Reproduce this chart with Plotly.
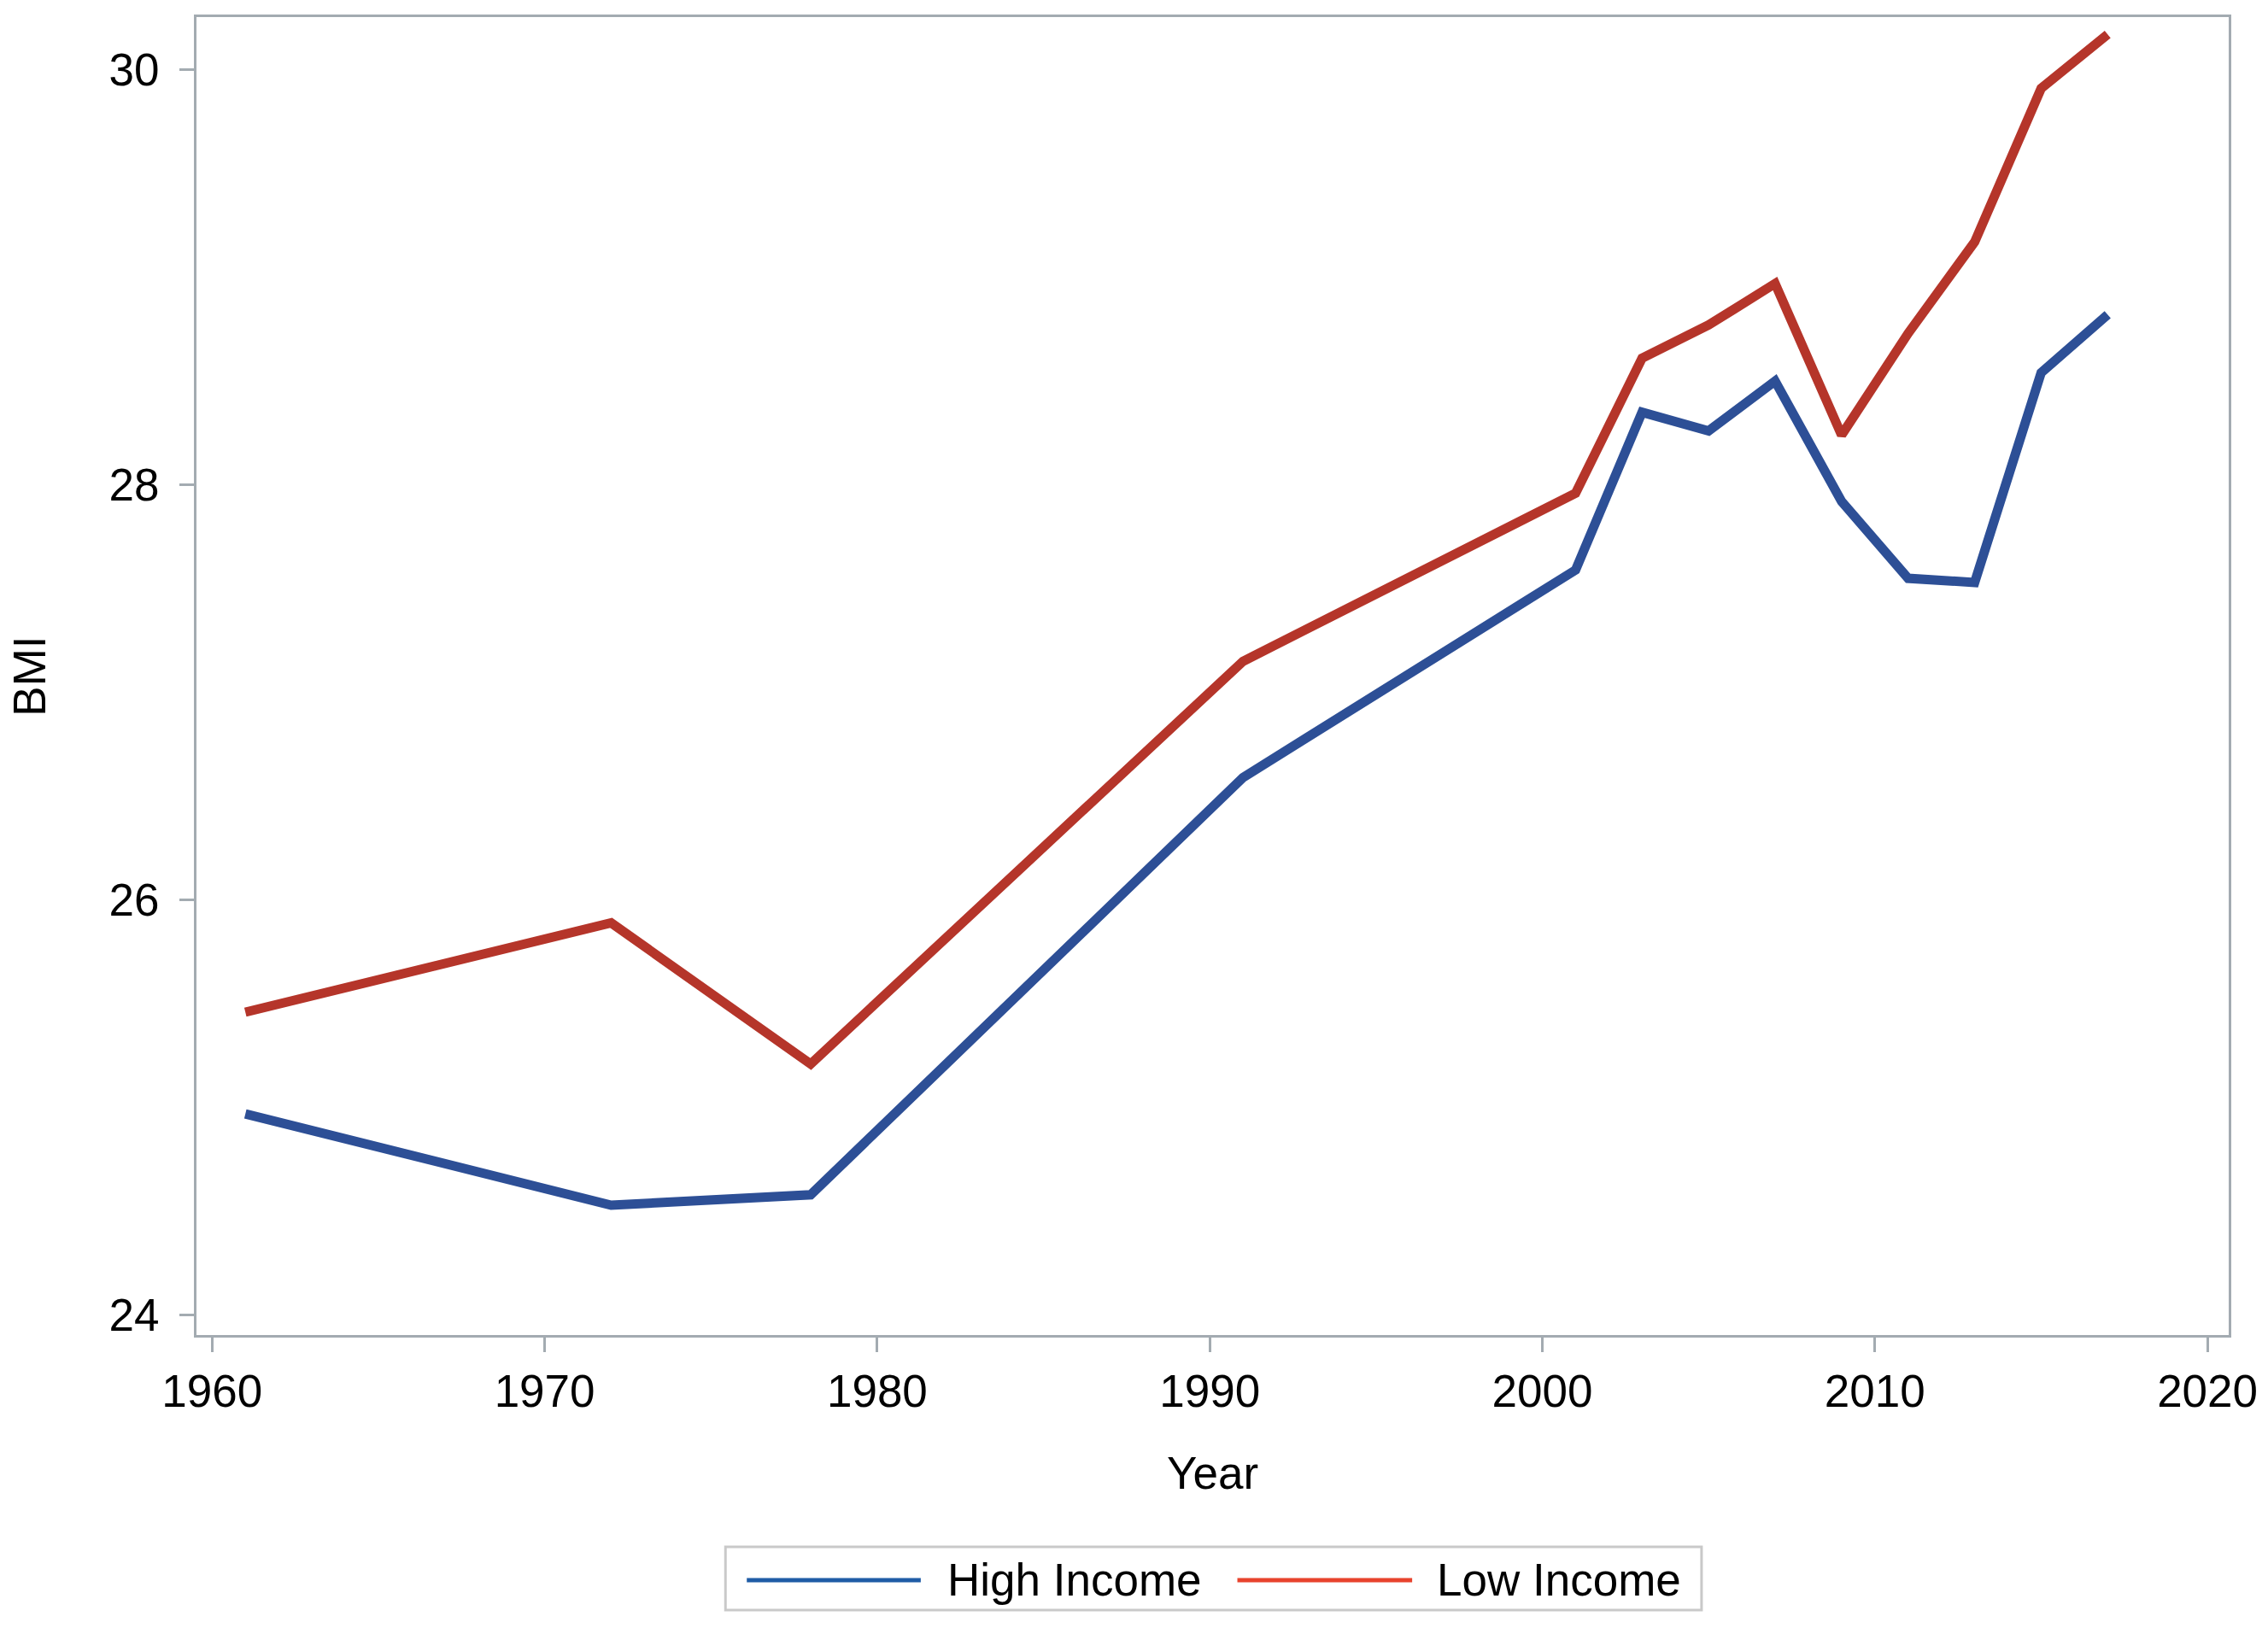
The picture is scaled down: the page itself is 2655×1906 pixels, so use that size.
import plotly.graph_objects as go

years = [1961, 1972, 1978, 1991, 2001, 2003, 2005, 2007, 2009, 2011, 2013, 2015, 2017]
high_income = [24.97, 24.53, 24.58, 26.59, 27.59, 28.35, 28.26, 28.50, 27.92, 27.55, 27.53, 28.54, 28.82]
low_income = [25.46, 25.89, 25.21, 27.15, 27.96, 28.61, 28.77, 28.97, 28.24, 28.73, 29.17, 29.91, 30.17]

series_names = ["High Income", "Low Income"]
x_ticks = [1960, 1970, 1980, 1990, 2000, 2010, 2020]
y_ticks = [24, 26, 28, 30]

FONT = "Liberation Sans, Arial, sans-serif"
AXIS_GREY = "#a3abb1"
LINE_COLORS = ["#2d4f96", "#b5352a"]
LEGEND_COLORS = ["#1f5ca6", "#e8432d"]

fig = go.Figure()
for name, vals, col in zip(series_names, [high_income, low_income], LINE_COLORS):
    fig.add_trace(go.Scatter(x=years, y=vals, mode="lines", name=name,
                             line=dict(color=col, width=11), showlegend=False))

# Legend drawn like the reference: framed box, long line samples, text labels
LEG_Y = -0.1860
shapes = [dict(type="rect", xref="paper", yref="paper",
               x0=0.2603, x1=0.7406, y0=-0.2087, y1=-0.1607,
               line=dict(color="#c9c9c9", width=3), fillcolor="white", layer="above")]
annotations = []
sample_x = [(0.2708, 0.3564), (0.5122, 0.5982)]
text_x = [0.3686, 0.6096]
for (sx0, sx1), tx, name, col in zip(sample_x, text_x, series_names, LEGEND_COLORS):
    shapes.append(dict(type="line", xref="paper", yref="paper",
                       x0=sx0, x1=sx1, y0=LEG_Y, y1=LEG_Y,
                       line=dict(color=col, width=5), layer="above"))
    annotations.append(dict(text=name, xref="paper", yref="paper", x=tx, y=LEG_Y,
                            xanchor="left", yanchor="middle", showarrow=False,
                            font=dict(family=FONT, size=53, color="#000000")))

fig.update_layout(
    width=2655, height=1900,
    margin=dict(l=230, r=43, t=20, b=337),
    paper_bgcolor="white", plot_bgcolor="white",
    font=dict(family=FONT, size=53, color="#000000"),
    showlegend=False,
    shapes=shapes,
    annotations=annotations,
)
fig.update_xaxes(
    range=[1959.53, 2020.64], tickvals=x_ticks, ticktext=[str(v) for v in x_ticks],
    showgrid=False, zeroline=False,
    showline=True, mirror=True, linecolor=AXIS_GREY, linewidth=3,
    ticks="outside", ticklen=17, tickwidth=3, tickcolor=AXIS_GREY,
    tickfont=dict(family=FONT, size=53, color="#000000"),
    title=dict(text="Year", font=dict(family=FONT, size=53, color="#000000"), standoff=50),
)
fig.update_yaxes(
    range=[23.9045, 30.2535], tickvals=y_ticks, ticktext=[str(v) for v in y_ticks],
    showgrid=False, zeroline=False,
    showline=True, mirror=True, linecolor=AXIS_GREY, linewidth=3,
    ticks="outside", ticklen=17, tickwidth=3, tickcolor=AXIS_GREY,
    ticklabelstandoff=13,
    tickfont=dict(family=FONT, size=53, color="#000000"),
    title=dict(text="BMI", font=dict(family=FONT, size=53, color="#000000"), standoff=57),
)

fig.write_html("out.html", config={"displayModeBar": False},
               post_script="document.body.style.margin='0';")
